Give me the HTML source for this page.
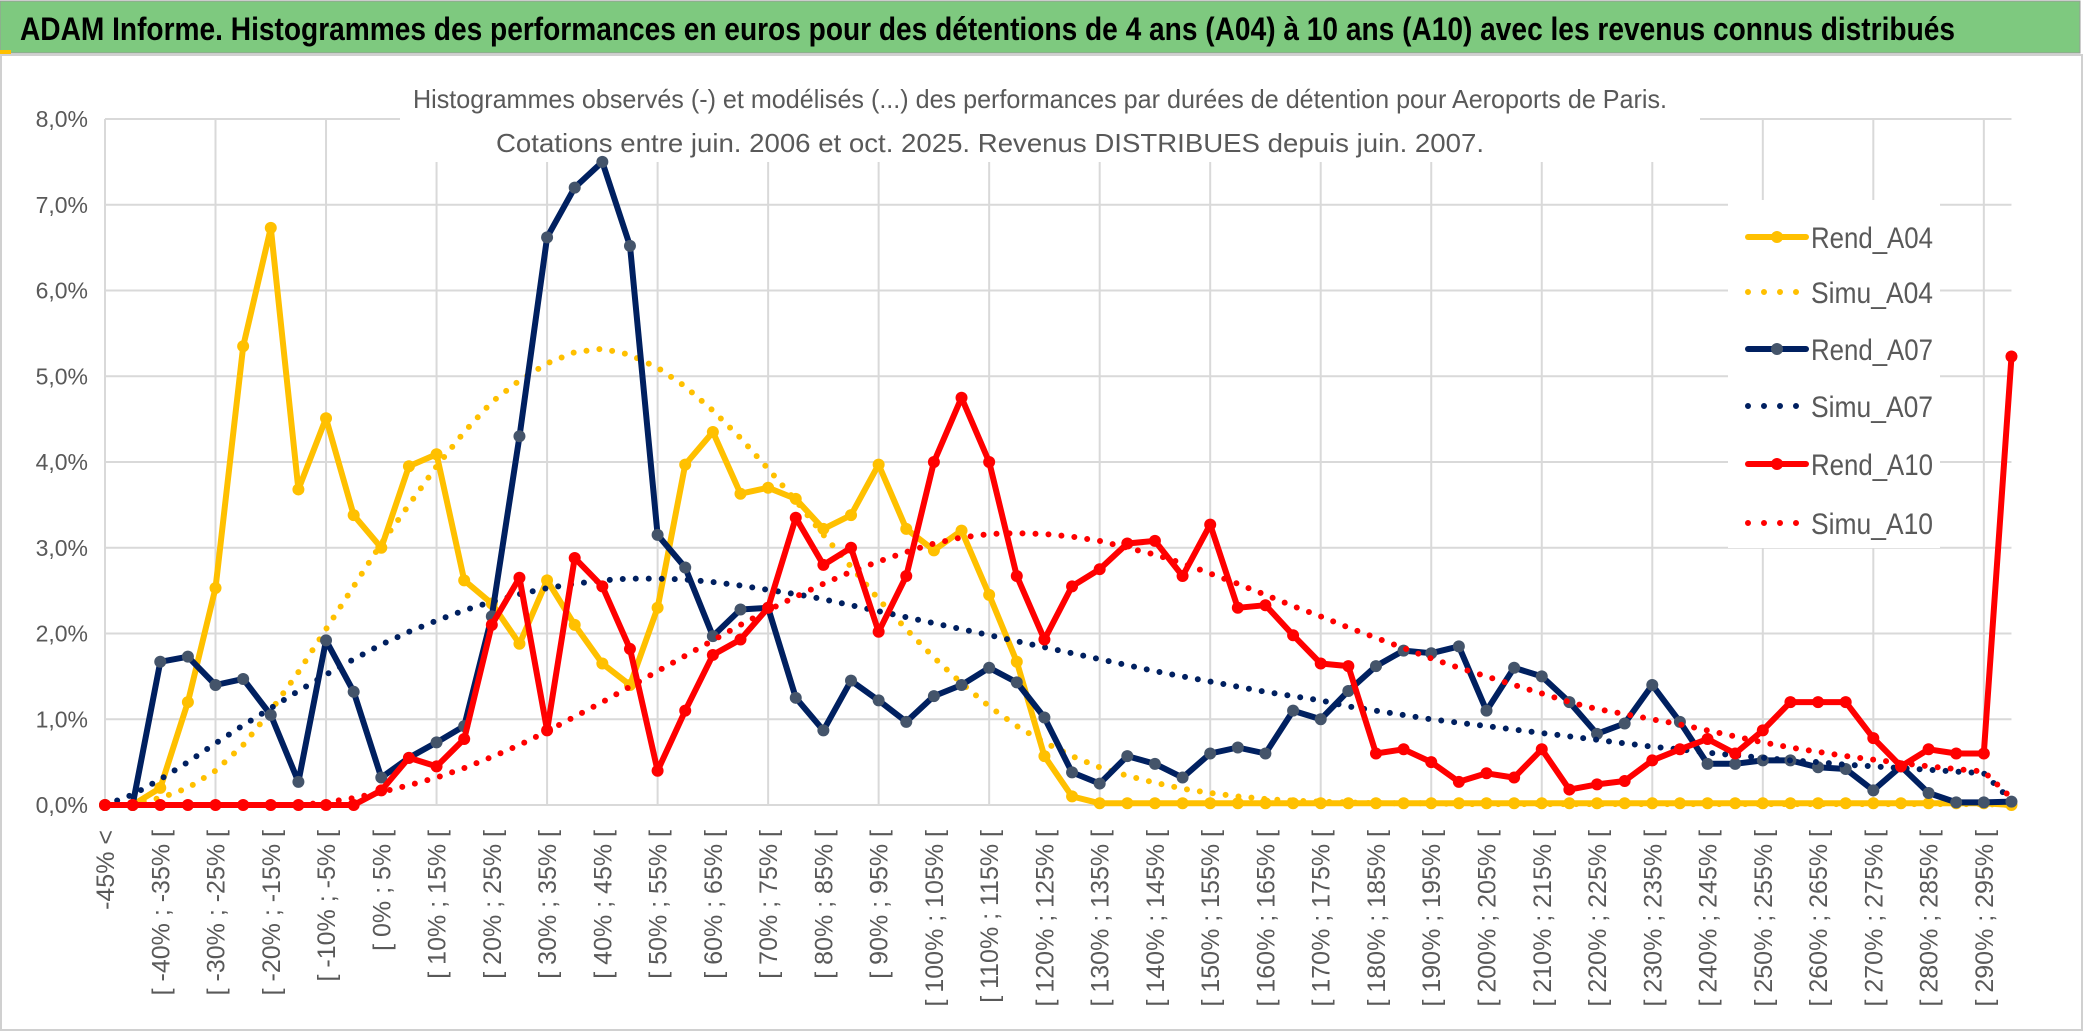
<!DOCTYPE html>
<html><head><meta charset="utf-8"><style>
html,body{margin:0;padding:0;background:#fff;}
svg{display:block;font-family:"Liberation Sans",sans-serif;}
</style></head><body>
<svg id="chart" width="2086" height="1033" viewBox="0 0 2086 1033" xmlns="http://www.w3.org/2000/svg">
<rect x="0" y="0" width="2086" height="1033" fill="#fff"/>
<rect x="0" y="1" width="2080" height="52" fill="#7EC97F" stroke="#999" stroke-width="1"/>
<rect x="0" y="50" width="11" height="4" fill="#FFC000"/>
<text x="20" y="40" font-size="32" font-weight="bold" fill="#000" textLength="1935" lengthAdjust="spacingAndGlyphs">ADAM Informe. Histogrammes des performances en euros pour des détentions de 4 ans (A04) à 10 ans (A10) avec les revenus connus distribués</text>
<rect x="1" y="55" width="2081" height="975" fill="#fff" stroke="#d0d0d0" stroke-width="2"/>
<g id="grid"></g>
<rect x="400" y="60" width="1300" height="102" fill="#fff"/>
<text x="413" y="108" font-size="26" fill="#595959" textLength="1254" lengthAdjust="spacingAndGlyphs">Histogrammes observés (-) et modélisés (...) des performances par durées de détention pour Aeroports de Paris.</text>
<text x="496" y="152" font-size="26" fill="#595959" textLength="988" lengthAdjust="spacingAndGlyphs">Cotations entre juin. 2006 et oct. 2025. Revenus DISTRIBUES depuis juin. 2007.</text>
<rect x="1728" y="200" width="212" height="348" fill="#fff"/>
<g id="axes"></g>
<g id="series"></g>
<g id="legend"></g>
</svg>
<script>
const categories = ["-45% <"];
for (let k = 1; k < 70; k++) { const lo = -45 + 5 * (k - 1); categories.push("[ " + lo + "% ; " + (lo + 5) + "% ["); }
const yTicks = [0,1,2,3,4,5,6,7,8];
const yTickLabels = ["0,0%","1,0%","2,0%","3,0%","4,0%","5,0%","6,0%","7,0%","8,0%"];
const rendA04 = [0,0,0.2,1.2,2.53,5.35,6.73,3.68,4.51,3.38,3.0,3.95,4.09,2.62,2.35,1.88,2.62,2.1,1.65,1.4,2.3,3.97,4.35,3.63,3.7,3.57,3.22,3.38,3.97,3.22,2.97,3.2,2.45,1.67,0.57,0.1,0.02,0.02,0.02,0.02,0.02,0.02,0.02,0.02,0.02,0.02,0.02,0.02,0.02,0.02,0.02,0.02,0.02,0.02,0.02,0.02,0.02,0.02,0.02,0.02,0.02,0.02,0.02,0.02,0.02,0.02,0.02,0.02,0.02,0];
const simuA04 = [0,0.02,0.08,0.2,0.4,0.7,1.1,1.55,2.05,2.55,3.05,3.5,3.95,4.35,4.7,4.95,5.15,5.28,5.32,5.25,5.1,4.88,4.6,4.28,3.92,3.55,3.15,2.78,2.4,2.05,1.72,1.42,1.15,0.92,0.73,0.57,0.44,0.34,0.26,0.19,0.14,0.1,0.07,0.05,0.04,0.03,0.02,0.02,0.02,0.01,0.01,0.01,0.01,0.01,0.01,0.01,0.01,0.01,0.01,0.01,0.01,0.01,0.01,0.01,0.01,0.01,0.01,0.01,0.01,0];
const rendA07 = [0,0,1.67,1.73,1.4,1.47,1.05,0.27,1.92,1.32,0.32,0.55,0.73,0.92,2.2,4.3,6.62,7.2,7.5,6.52,3.15,2.77,1.97,2.28,2.3,1.25,0.87,1.45,1.22,0.97,1.27,1.4,1.6,1.43,1.02,0.38,0.25,0.57,0.48,0.32,0.6,0.67,0.6,1.1,1.0,1.33,1.62,1.8,1.77,1.85,1.1,1.6,1.5,1.2,0.83,0.95,1.4,0.97,0.48,0.48,0.52,0.52,0.44,0.42,0.17,0.45,0.14,0.03,0.03,0.04];
const simuA07 = [0,0.12,0.3,0.5,0.72,0.93,1.13,1.33,1.52,1.7,1.87,2.02,2.15,2.27,2.37,2.46,2.53,2.58,2.62,2.64,2.64,2.63,2.6,2.56,2.51,2.46,2.4,2.33,2.26,2.19,2.12,2.05,1.98,1.91,1.84,1.77,1.7,1.63,1.56,1.5,1.44,1.38,1.32,1.27,1.22,1.15,1.1,1.05,1.0,0.96,0.92,0.88,0.84,0.8,0.76,0.72,0.68,0.65,0.61,0.58,0.55,0.52,0.5,0.47,0.45,0.43,0.41,0.39,0.37,0.05];
const rendA10 = [0,0,0,0,0,0,0,0,0,0,0.17,0.55,0.45,0.77,2.1,2.65,0.87,2.88,2.55,1.82,0.4,1.1,1.75,1.93,2.3,3.35,2.8,3.0,2.02,2.67,4.0,4.75,4.0,2.67,1.93,2.55,2.75,3.05,3.08,2.67,3.27,2.3,2.33,1.98,1.65,1.62,0.6,0.65,0.5,0.27,0.37,0.32,0.65,0.18,0.24,0.28,0.52,0.65,0.77,0.6,0.87,1.2,1.2,1.2,0.78,0.45,0.65,0.6,0.6,5.23];
const simuA10 = [0,0,0,0,0,0,0,0,0.03,0.08,0.15,0.23,0.32,0.43,0.56,0.7,0.86,1.03,1.2,1.38,1.56,1.74,1.92,2.1,2.27,2.43,2.58,2.72,2.84,2.95,3.05,3.12,3.16,3.17,3.16,3.13,3.08,3.0,2.92,2.82,2.7,2.58,2.45,2.32,2.2,2.07,1.95,1.83,1.71,1.6,1.5,1.4,1.3,1.2,1.12,1.06,1.0,0.94,0.87,0.8,0.73,0.67,0.62,0.57,0.53,0.49,0.45,0.42,0.39,0.08];

const NS = "http://www.w3.org/2000/svg";
const X0 = 105, DX = 27.63, Y0 = 805, DY = 85.75;
const xScale = i => X0 + i * DX;
const yScale = v => Y0 - v * DY;
const PLOT_R = xScale(categories.length - 1);
function mk(tag, attrs, parent) { const e = document.createElementNS(NS, tag); for (const k in attrs) e.setAttribute(k, attrs[k]); parent.appendChild(e); return e; }

const grid = document.getElementById('grid');
yTicks.forEach(t => {
  const l = mk('line', {x1: X0, x2: PLOT_R, y1: yScale(t), y2: yScale(t), stroke: '#d9d9d9', 'stroke-width': 2}, grid);
  
  
});
for (let i = 0; i < categories.length; i += 4) {
  const l = mk('line', {x1: xScale(i), x2: xScale(i), y1: yScale(8), y2: Y0, stroke: '#d9d9d9', 'stroke-width': 2}, grid);
  
  
}

const axes = document.getElementById('axes');
yTicks.forEach((t, k) => {
  const tx = mk('text', {x: 88, y: yScale(t) + 8, 'font-size': 23, fill: '#595959', 'text-anchor': 'end'}, axes);
  tx.textContent = yTickLabels[k];
  
  
});
categories.forEach((c, i) => {
  if (i % 2 !== 0 || i > 68) return;
  const x = xScale(i) + 9, y = 830;
  const tx = mk('text', {x: x, y: y, 'font-size': 25, fill: '#595959', 'text-anchor': 'end', transform: 'rotate(-90 ' + x + ' ' + y + ')'}, axes);
  tx.textContent = c;
  
  
});

const seriesG = document.getElementById('series');
const defs = [
  {name: 'Rend_A04', data: rendA04, color: '#FFC000', marker: '#FFC000', dotted: false},
  {name: 'Simu_A04', data: simuA04, color: '#FFC000', dotted: true},
  {name: 'Rend_A07', data: rendA07, color: '#002060', marker: '#44546A', dotted: false},
  {name: 'Simu_A07', data: simuA07, color: '#002060', dotted: true},
  {name: 'Rend_A10', data: rendA10, color: '#FF0000', marker: '#FF0000', dotted: false},
  {name: 'Simu_A10', data: simuA10, color: '#FF0000', dotted: true}
];
defs.forEach(s => {
  const g = mk('g', {}, seriesG);
  
  
  const pts = s.data.map((v, i) => xScale(i).toFixed(1) + ',' + yScale(v).toFixed(1)).join(' ');
  const attrs = {points: pts, fill: 'none', stroke: s.color, 'stroke-width': 6, 'stroke-linejoin': 'round', 'stroke-linecap': 'round'};
  if (s.dotted) { attrs['stroke-dasharray'] = '0 13'; }
  const pl = mk('polyline', attrs, g);
  
  
  if (!s.dotted) {
    s.data.forEach((v, i) => {
      const c = mk('circle', {cx: xScale(i), cy: yScale(v), r: 6, fill: s.marker}, g);
      
      
    });
  }
});

const legend = document.getElementById('legend');
const legY = [237, 292, 349, 406, 464, 523];
defs.forEach((s, k) => {
  const y = legY[k];
  const g = mk('g', {}, legend);
  
  
  const a = {x1: 1748, x2: 1806, y1: y, y2: y, stroke: s.color, 'stroke-width': 6, 'stroke-linecap': 'round'};
  if (s.dotted) a['stroke-dasharray'] = '0 16';
  mk('line', a, g);
  if (!s.dotted) mk('circle', {cx: 1777, cy: y, r: 6, fill: s.marker}, g);
  const t = mk('text', {x: 1811, y: y + 11, 'font-size': 30, fill: '#595959', textLength: 122, lengthAdjust: 'spacingAndGlyphs'}, g);
  t.textContent = s.name;
  
  
});
</script>
</body></html>
